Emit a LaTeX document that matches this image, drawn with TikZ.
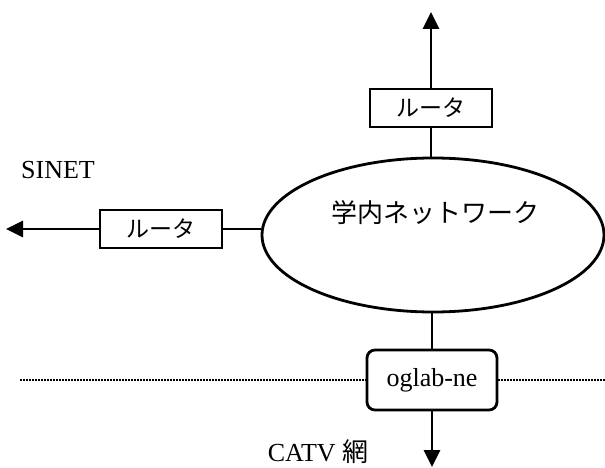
\documentclass[tikz,border=0pt]{standalone}
\usepackage{fontspec}
\setmainfont{Liberation Serif}
\newfontfamily\cjk{Noto Sans CJK JP}
\usetikzlibrary{shapes.geometric,arrows.meta}
\begin{document}
\begin{tikzpicture}[x=1pt,y=-1pt,
  wire/.style={line width=2.8pt},
  arr/.style={wire,-{Triangle[length=17pt,width=16pt]}},
  router/.style={draw,line width=2.8pt,minimum width=122pt,minimum height=38pt,inner sep=0pt,font=\cjk\fontsize{23}{25}\selectfont},
  gate/.style={draw,line width=2.8pt,rounded corners=8pt,minimum width=130pt,minimum height=60pt,inner sep=0pt,font=\fontsize{26}{28}\selectfont},
  lbl/.style={inner sep=0pt,font=\fontsize{26}{28}\selectfont}]
\useasboundingbox (0,0) rectangle (605,468);
\node[draw,ellipse,line width=2.8pt,minimum width=342pt,minimum height=154pt,inner sep=0pt] (net) at (433,235) {};
\node[inner sep=0pt,font=\cjk\fontsize{26}{28}\selectfont] (nettext) at (435,213) {学内ネットワーク};
\node[router] (r1) at (431,108) {ルータ};
\node[router] (r2) at (161,229) {ルータ};
\node[gate] (og) at (432,380) {oglab-ne};
\node[lbl] (sinet) at (58,170) {SINET};
\node[lbl] (catv) at (318,452) {CATV\hspace{0.25em}\cjk 網};
\coordinate (top) at (431,12);
\coordinate (left) at (6,229);
\coordinate (bot) at (432,467);
\coordinate (dl) at (20,380);
\coordinate (dr) at (605,380);
\draw[arr] (r1.north) -- (top);
\draw[wire] (r1.south) -- (r1.south |- net.north);
\draw[arr] (r2.west) -- (left);
\draw[wire] (r2.east) -- (r2.east -| net.west);
\draw[wire] (og.north |- net.south) -- (og.north);
\draw[arr] (og.south) -- (bot);
\draw[line width=1.4pt,dash pattern=on 2pt off 1pt] (dl) -- (og.west);
\draw[line width=1.4pt,dash pattern=on 2pt off 1pt] (og.east) -- (dr);
\end{tikzpicture}
\end{document}
